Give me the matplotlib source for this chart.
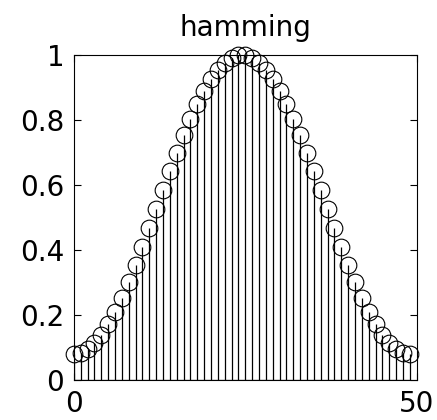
import matplotlib
matplotlib.use("Agg")
import matplotlib.pyplot as plt

# hamming window, 50 samples
sample_idx = list(range(50))
half_window = [0.0800, 0.0838, 0.0950, 0.1136, 0.1392, 0.1713, 0.2096, 0.2532,
               0.3015, 0.3537, 0.4091, 0.4666, 0.5253, 0.5842, 0.6424, 0.6989,
               0.7527, 0.8030, 0.8490, 0.8900, 0.9254, 0.9544, 0.9769, 0.9915,
               0.9991]
window_vals = half_window + half_window[::-1]

y_ticks = [0, 0.2, 0.4, 0.6, 0.8, 1]
y_tick_labels = ["0", "0.2", "0.4", "0.6", "0.8", "1"]
x_ticks = [0, 50]
x_tick_labels = ["0", "50"]


def main():
    plt.rcParams["font.family"] = ["DejaVu Sans"]

    fig = plt.figure(figsize=(4.37, 4.2), dpi=100)
    ax = fig.add_axes([0.169, 0.095, 0.7845, 0.774])

    markerline, stemlines, baseline = ax.stem(sample_idx, window_vals,
                                              linefmt="k-", markerfmt="o",
                                              basefmt="k-")
    plt.setp(stemlines, linewidth=0.9)
    plt.setp(baseline, linewidth=0.9)
    markerline.set_markerfacecolor("none")
    markerline.set_markeredgecolor("black")
    markerline.set_markersize(12)
    markerline.set_markeredgewidth(0.8)
    markerline.set_clip_on(False)

    ax.set_xlim(0, 50)
    ax.set_ylim(0, 1)
    ax.set_xticks(x_ticks, labels=x_tick_labels)
    ax.set_yticks(y_ticks, labels=y_tick_labels)
    ax.tick_params(direction="in", length=5, width=0.8, labelsize=20,
                   top=True, right=True, pad=7)
    for spine in ax.spines.values():
        spine.set_linewidth(0.8)

    ax.set_title("hamming", fontsize=20, pad=14)

    fig.savefig("out.png", dpi=100)


if __name__ == "__main__":
    main()
